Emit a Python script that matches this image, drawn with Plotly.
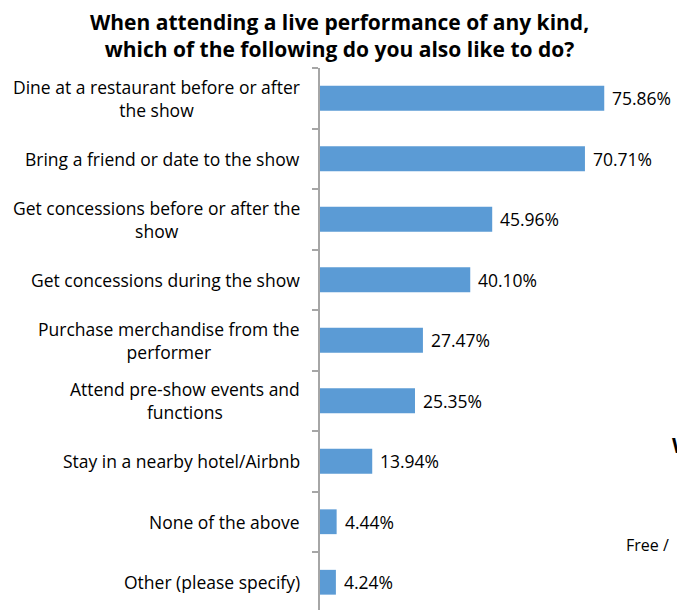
import plotly.graph_objects as go

# Survey answers, top to bottom, and the share of respondents choosing each
activities = [
    "Dine at a restaurant before or after<br>the show",
    "Bring a friend or date to the show",
    "Get concessions before or after the<br>show",
    "Get concessions during the show",
    "Purchase merchandise from the<br>performer",
    "Attend pre-show events and<br>functions",
    "Stay in a nearby hotel/Airbnb",
    "None of the above",
    "Other (please specify)",
]
shares = [75.86, 70.71, 45.96, 40.10, 27.47, 25.35, 13.94, 4.44, 4.24]
value_labels = ["75.86%", "70.71%", "45.96%", "40.10%", "27.47%",
                "25.35%", "13.94%", "4.44%", "4.24%"]

title_text = ("When attending a live performance of any kind,<br>"
              "which of the following do you also like to do?")

BAR_BLUE = "#5B9BD5"
AXIS_GRAY = "#A6A6A6"
FONT = "Open Sans"

W, H = 677, 610
LEFT, TOP = 320, 68
PX_PER_PCT = 3.747
ROW_PX = 60.5

x_max = (W - LEFT) / PX_PER_PCT
n = len(activities)
# the category band continues a little below the bottom edge of the page
y_bottom = -0.5 + (H - TOP) / ROW_PX
cats = list(range(n))


def px_to_paper(px, py):
    """Page pixel position -> plot-area paper coordinates."""
    return (px - LEFT) / (W - LEFT), (H - py) / (H - TOP)


fig = go.Figure(
    go.Bar(
        x=shares,
        y=cats,
        orientation="h",
        marker=dict(color=BAR_BLUE, line=dict(width=0)),
        width=0.41,
        hoverinfo="skip",
    )
)

annotations = []

# category labels: right-aligned block, lines centred within it
for i, label in enumerate(activities):
    annotations.append(dict(
        x=0, xref="x", y=i, yref="y",
        text=label, showarrow=False, align="center",
        xanchor="right", yanchor="middle", xshift=-18,
        font=dict(family=FONT, size=17.5, color="#000000"),
    ))

# value labels just past the end of each bar
for i, (v, t) in enumerate(zip(shares, value_labels)):
    annotations.append(dict(
        x=v, xref="x", y=i, yref="y",
        text=t, showarrow=False,
        xanchor="left", yanchor="middle", xshift=6,
        font=dict(family=FONT, size=17.5, color="#000000"),
    ))

# two-line heading
tx, ty = px_to_paper(339, 36)
annotations.append(dict(
    x=tx, xref="paper", y=ty, yref="paper",
    xanchor="center", yanchor="middle", align="center",
    text="<b>" + title_text + "</b>", showarrow=False,
    font=dict(family=FONT, size=21, color="#000000"),
))

# text from the neighbouring slide at the right edge
fx, fy = px_to_paper(624, 545)
annotations.append(dict(
    x=fx, xref="paper", y=fy, yref="paper",
    xanchor="left", yanchor="middle", text="Free /", showarrow=False,
    font=dict(family=FONT, size=16, color="#000000"),
))
wx, wy = px_to_paper(670, 445)
annotations.append(dict(
    x=wx, xref="paper", y=wy, yref="paper",
    xanchor="left", yanchor="middle", text="<b>W</b>", showarrow=False,
    font=dict(family=FONT, size=21, color="#000000"),
))

fig.update_layout(
    width=W, height=H,
    margin=dict(l=LEFT, r=0, t=TOP, b=0, pad=0),
    paper_bgcolor="white", plot_bgcolor="white",
    showlegend=False,
    annotations=annotations,
    xaxis=dict(range=[0, x_max], visible=False, fixedrange=True),
    yaxis=dict(
        range=[y_bottom, -0.5],
        tickmode="array",
        tickvals=[i - 0.5 for i in range(n + 1)],
        ticktext=[""] * (n + 1),
        ticks="outside", ticklen=6, tickwidth=1.5, tickcolor=AXIS_GRAY,
        showline=True, linecolor=AXIS_GRAY, linewidth=1.5,
        showgrid=False, zeroline=False, showticklabels=False,
        fixedrange=True,
    ),
)

fig.write_html("out.html")
